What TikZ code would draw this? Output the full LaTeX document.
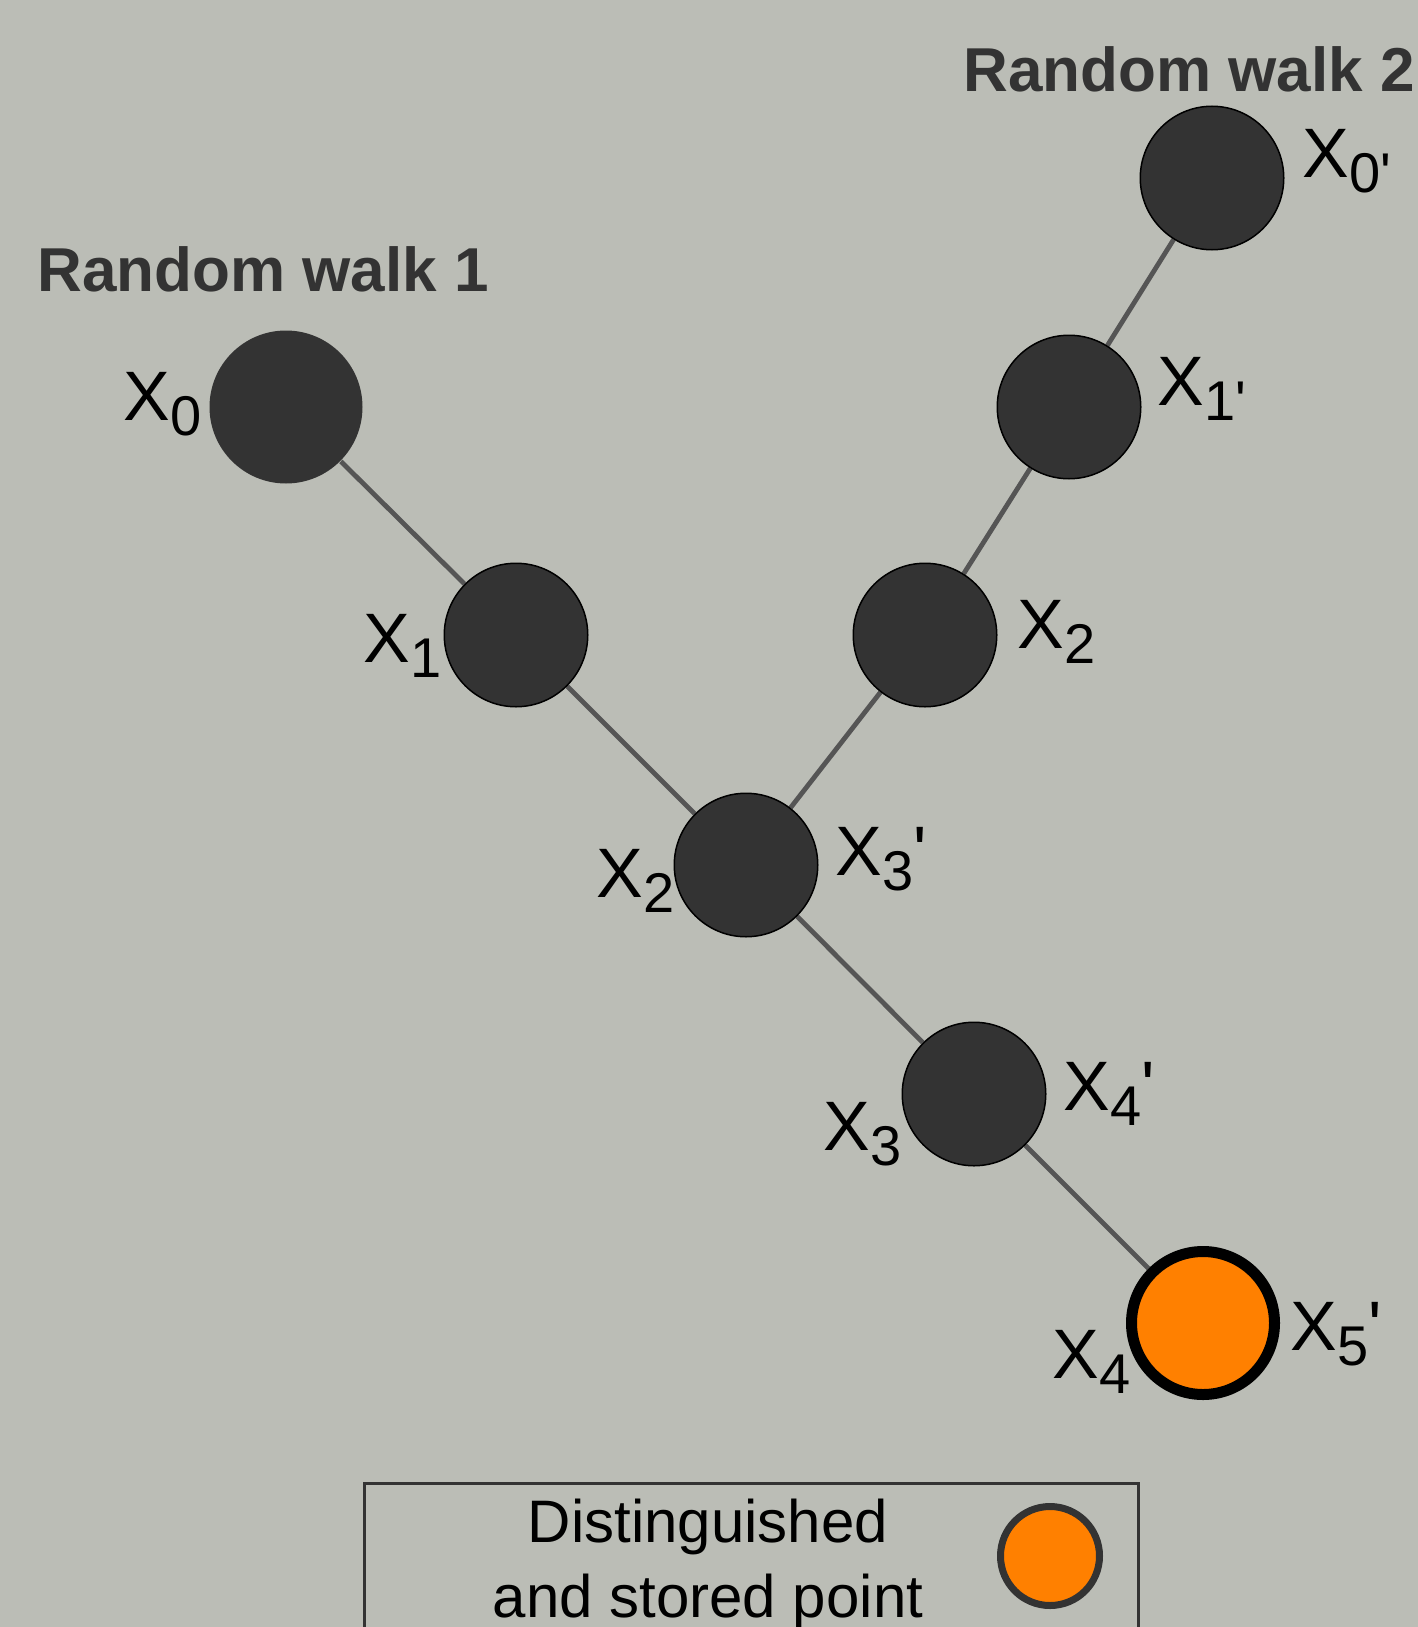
\documentclass[tikz,border=0pt]{standalone}
\usepackage{fontspec}
\setmainfont{Liberation Sans}
\usetikzlibrary{backgrounds}

\definecolor{canvas}{HTML}{BBBDB6}
\definecolor{ink}{HTML}{333333}
\definecolor{wire}{HTML}{555555}
\definecolor{dpoint}{HTML}{FF8000}

% X with a lowered subscript (#1) and an optional full-size suffix (#2)
\newcommand\xlab[2]{X\raisebox{-7.5pt}{\fontsize{28}{28}\selectfont #1}#2}

\begin{document}
\begin{tikzpicture}[x=0.5pt, y=-0.5pt,
  walkpt/.style={circle, fill=ink, draw=black, line width=0.75pt,
                 minimum size=71.75pt, inner sep=0pt},
  startpt/.style={walkpt, draw=none, minimum size=76.5pt},
  storedpt/.style={circle, fill=dpoint, draw=black, line width=5.5pt,
                   minimum size=71.5pt, inner sep=0pt},
  walklink/.style={draw=wire, line width=2.4pt},
  ptlabel/.style={font=\fontsize{35}{35}\selectfont, text=black,
                  inner sep=0pt, anchor=base west},
  walktitle/.style={font=\bfseries\fontsize{31}{31}\selectfont, text=ink,
                    inner sep=0pt, anchor=base west},
]
\useasboundingbox (0,0) rectangle (1418,1627);
\begin{pgfonlayer}{background}
  \fill[canvas] (0,0) rectangle (1418,1627);
\end{pgfonlayer}

% titles
\node[walktitle] (t1) at (37,291) {Random walk 1};
\node[walktitle] (t2) at (963,91) {Random walk 2};

% walk 1
\node[startpt] (a0) at (286,407) {};
\node[walkpt]  (a1) at (516,635) {};
\node[walkpt]  (a2) at (746,865) {};
\node[walkpt]  (a3) at (974,1094) {};
\node[storedpt] (a4) at (1203,1323) {};

% walk 2
\node[walkpt] (b0) at (1212,178) {};
\node[walkpt] (b1) at (1069,407) {};
\node[walkpt] (b2) at (925,635) {};

% connectors
\begin{pgfonlayer}{background}
  \draw[walklink] (a0) -- (a1) -- (a2) -- (a3) -- (a4);
  \draw[walklink] (b0) -- (b1) -- (b2) -- (a2);
\end{pgfonlayer}

% labels of walk 1
\node[ptlabel] (la0) at (123,420)  {\xlab{0}{}};
\node[ptlabel] (la1) at (363,662)  {\xlab{1}{}};
\node[ptlabel] (la2) at (596,897)  {\xlab{2}{}};
\node[ptlabel] (la3) at (823,1150) {\xlab{3}{}};
\node[ptlabel] (la4) at (1052,1378) {\xlab{4}{}};

% labels of walk 2
\node[ptlabel] (lb0) at (1302,177) {\xlab{0\textquotesingle}{}};
\node[ptlabel] (lb1) at (1157,405) {\xlab{1\textquotesingle}{}};
\node[ptlabel] (lb2) at (1017,648) {\xlab{2}{}};
\node[ptlabel] (lb3) at (835,875)  {\xlab{3}{\textquotesingle}};
\node[ptlabel] (lb4) at (1063,1110) {\xlab{4}{\textquotesingle}};
\node[ptlabel] (lb5) at (1290,1350) {\xlab{5}{\textquotesingle}};

% legend
\node[draw=ink, line width=1.5pt, inner sep=0pt, anchor=north west,
      minimum width=387pt, minimum height=110pt] (legend) at (363,1481.5) {};
\node[align=center, inner sep=0pt, anchor=base,
      font=\fontsize{30}{37.5}\selectfont] (legendtext) at (708,1617)
      {Distinguished\\and stored point};
\node[circle, fill=dpoint, draw=ink, line width=3.5pt, inner sep=0pt,
      minimum size=49.5pt] (legendpt) at (1050,1556) {};
\end{tikzpicture}
\end{document}
